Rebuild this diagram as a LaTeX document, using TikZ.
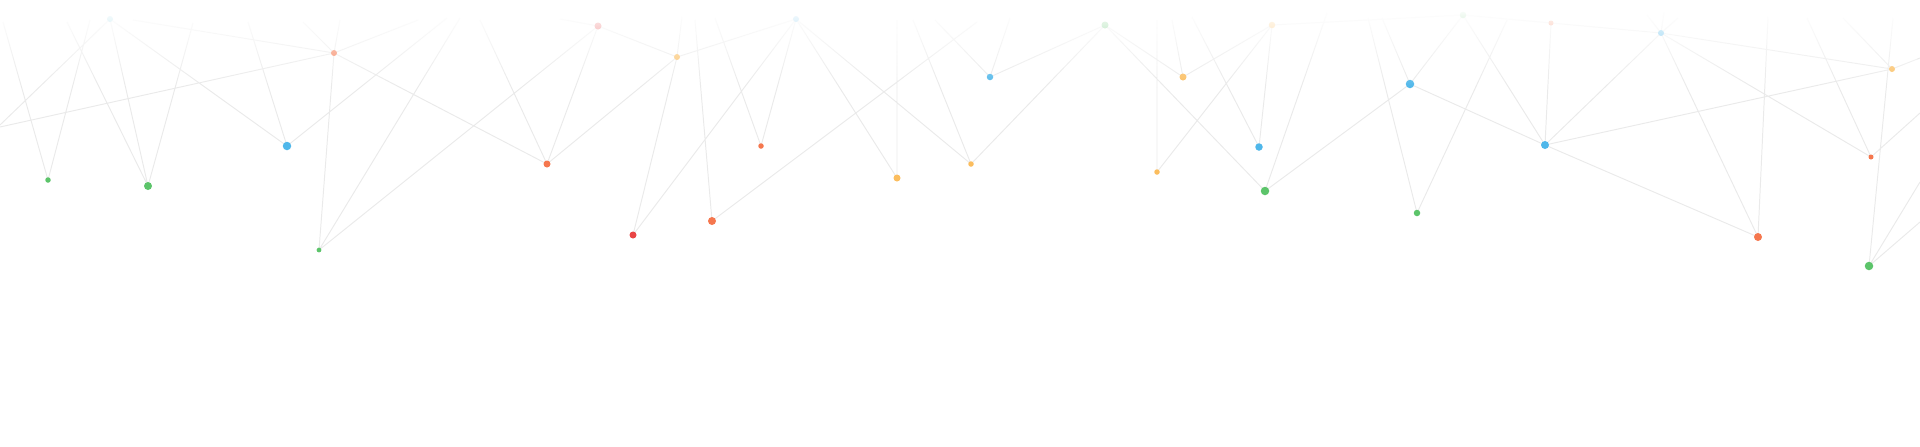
\documentclass[tikz,border=0pt]{standalone}
\usetikzlibrary{fadings}

\definecolor{netblue}{RGB}{79,183,234}
\definecolor{netcyan}{RGB}{120,205,225}
\definecolor{netgreen}{RGB}{92,196,106}
\definecolor{netorange}{RGB}{245,119,78}
\definecolor{netred}{RGB}{233,69,69}
\definecolor{netyellow}{RGB}{251,189,94}
\definecolor{linkgray}{RGB}{234,234,234}

\pgfdeclarelayer{background}
\pgfdeclarelayer{front}
\pgfsetlayers{background,main,front}

\begin{document}
\begin{tikzpicture}[
  x=0.2mm, y=-0.2mm,
  dot/.style={circle,fill=#1,inner sep=0pt,minimum size=1.4mm},
  link/.style={draw=linkgray,line width=0.55pt}
]
  \useasboundingbox (0,0) rectangle (1920,446);

  % dots
  \node[dot=netgreen,minimum size=1.1mm] (g1) at (48,180) {};
  \node[dot=netgreen,minimum size=1.6mm] (g2) at (148,186) {};
  \node[dot=netblue,minimum size=1.7mm] (b1) at (287,146) {};
  \node[dot=netorange,minimum size=1.2mm] (p1) at (334,53) {};
  \node[dot=netgreen,minimum size=0.95mm] (g3) at (319,250) {};
  \node[dot=netorange] (o1) at (547,164) {};
  \node[dot=netyellow,minimum size=1.2mm] (y1) at (677,57) {};
  \node[dot=netorange,minimum size=1.1mm] (r1) at (761,146) {};
  \node[dot=netorange,minimum size=1.6mm] (o2) at (712,221) {};
  \node[dot=netred] (d1) at (633,235) {};
  \node[dot=netyellow] (y2) at (897,178) {};
  \node[dot=netyellow,minimum size=1.1mm] (y3) at (971,164) {};
  \node[dot=netblue,minimum size=1.3mm] (b2) at (990,77) {};
  \node[dot=netyellow] (y4) at (1183,77) {};
  \node[dot=netyellow,minimum size=1.1mm] (y5) at (1157,172) {};
  \node[dot=netblue,minimum size=1.5mm] (b3) at (1259,147) {};
  \node[dot=netgreen,minimum size=1.7mm] (g4) at (1265,191) {};
  \node[dot=netblue,minimum size=1.7mm] (b4) at (1410,84) {};
  \node[dot=netgreen,minimum size=1.3mm] (g5) at (1417,213) {};
  \node[dot=netblue,minimum size=1.6mm] (b5) at (1545,145) {};
  \node[dot=netyellow,minimum size=1.2mm] (y6) at (1892,69) {};
  \node[dot=netorange,minimum size=1.0mm] (o3) at (1871,157) {};
  \node[dot=netorange,minimum size=1.6mm] (o4) at (1758,237) {};
  \node[dot=netgreen,minimum size=1.7mm] (g6) at (1869,266) {};

  % faint dots along the top
  \node[dot=netcyan,minimum size=1.2mm] (fa) at (110,19) {};
  \node[dot=netred] (fb) at (598,26) {};
  \node[dot=netblue,minimum size=1.2mm] (fc) at (796,19) {};
  \node[dot=netgreen] (fd) at (1105,25) {};
  \node[dot=netyellow,minimum size=1.3mm] (fe) at (1272,25) {};
  \node[dot=netgreen,minimum size=1.3mm] (ff) at (1463,15) {};
  \node[dot=netorange,minimum size=1.0mm] (fg) at (1551,23) {};
  \node[dot=netblue,minimum size=1.2mm] (fh) at (1661,33) {};

  % loose ends
  \coordinate (l1) at (0,127);
  \coordinate (l2) at (0,125);
  \coordinate (t1) at (3,22);
  \coordinate (t2) at (90,20);
  \coordinate (t3) at (67,22);
  \coordinate (t4) at (193,23);
  \coordinate (t5) at (248,22);
  \coordinate (t6) at (447,18);
  \coordinate (t7) at (133,20);
  \coordinate (t8) at (303,22);
  \coordinate (t9) at (340,20);
  \coordinate (t10) at (418,20);
  \coordinate (t11) at (460,18);
  \coordinate (t12) at (480,20);
  \coordinate (t13) at (560,19);
  \coordinate (t14) at (682,17);
  \coordinate (t15) at (695,20);
  \coordinate (t16) at (715,18);
  \coordinate (t17) at (897,20);
  \coordinate (t18) at (977,22);
  \coordinate (t19) at (913,20);
  \coordinate (t20) at (935,20);
  \coordinate (t21) at (1010,18);
  \coordinate (t22) at (1157,20);
  \coordinate (t23) at (1172,20);
  \coordinate (t24) at (1192,17);
  \coordinate (t25) at (1327,13);
  \coordinate (t26) at (1368,18);
  \coordinate (t27) at (1382,18);
  \coordinate (t28) at (1507,20);
  \coordinate (t29) at (1647,15);
  \coordinate (t30) at (1664,12);
  \coordinate (t31) at (1678,18);
  \coordinate (t32) at (1768,17);
  \coordinate (t33) at (1807,18);
  \coordinate (t34) at (1843,18);
  \coordinate (t35) at (1893,18);
  \coordinate (e1) at (1920,58);
  \coordinate (e2) at (1920,113);
  \coordinate (e3) at (1920,182);
  \coordinate (e4) at (1920,222);

  % links
  \begin{pgfonlayer}{background}
    \draw[link] (l1) -- (p1.center) (l2) -- (fa.center)
      (t1) -- (g1.center) (t2) -- (g1.center)
      (t3) -- (g2.center) (fa.center) -- (g2.center) (t4) -- (g2.center)
      (fa.center) -- (b1.center) (t5) -- (b1.center) (b1.center) -- (t6)
      (t7) -- (p1.center) (t8) -- (p1.center) (t9) -- (p1.center)
      (p1.center) -- (g3.center) (p1.center) -- (o1.center) (p1.center) -- (t10)
      (t11) -- (g3.center) (fb.center) -- (g3.center)
      (t12) -- (o1.center) (fb.center) -- (o1.center) (t13) -- (fb.center)
      (fb.center) -- (y1.center) (y1.center) -- (o1.center)
      (y1.center) -- (d1.center) (t14) -- (y1.center) (y1.center) -- (fc.center)
      (t15) -- (o2.center) (t16) -- (r1.center)
      (fc.center) -- (r1.center) (fc.center) -- (d1.center)
      (fc.center) -- (y2.center) (fc.center) -- (y3.center)
      (t17) -- (y2.center) (t18) -- (o2.center) (t19) -- (y3.center)
      (t20) -- (b2.center) (t21) -- (b2.center)
      (b2.center) -- (fd.center) (y3.center) -- (fd.center)
      (fd.center) -- (y4.center) (fd.center) -- (g4.center)
      (t22) -- (y5.center) (t23) -- (y4.center) (y4.center) -- (fe.center)
      (t24) -- (b3.center) (fe.center) -- (b3.center) (fe.center) -- (y5.center)
      (t25) -- (g4.center) (g4.center) -- (b4.center) (fe.center) -- (ff.center)
      (t26) -- (g5.center) (t27) -- (b4.center)
      (b4.center) -- (ff.center) (b4.center) -- (b5.center) (g5.center) -- (t28)
      (ff.center) -- (b5.center) (ff.center) -- (fg.center)
      (fg.center) -- (fh.center) (fg.center) -- (b5.center)
      (fh.center) -- (b5.center) (fh.center) -- (y6.center)
      (fh.center) -- (o3.center) (fh.center) -- (o4.center)
      (fh.center) -- (t29) (fh.center) -- (t30) (fh.center) -- (t31)
      (b5.center) -- (y6.center) (b5.center) -- (o4.center)
      (t32) -- (o4.center) (t33) -- (o3.center)
      (t34) -- (y6.center) (t35) -- (g6.center)
      (y6.center) -- (e1) (o3.center) -- (e2)
      (e3) -- (g6.center) (e4) -- (g6.center);
  \end{pgfonlayer}

  % fade towards the top edge
  \begin{pgfonlayer}{front}
    \fill[white] (0,0) rectangle (1920,8);
    \fill[white,path fading=south] (0,8) rectangle (1920,88);
  \end{pgfonlayer}
\end{tikzpicture}
\end{document}
